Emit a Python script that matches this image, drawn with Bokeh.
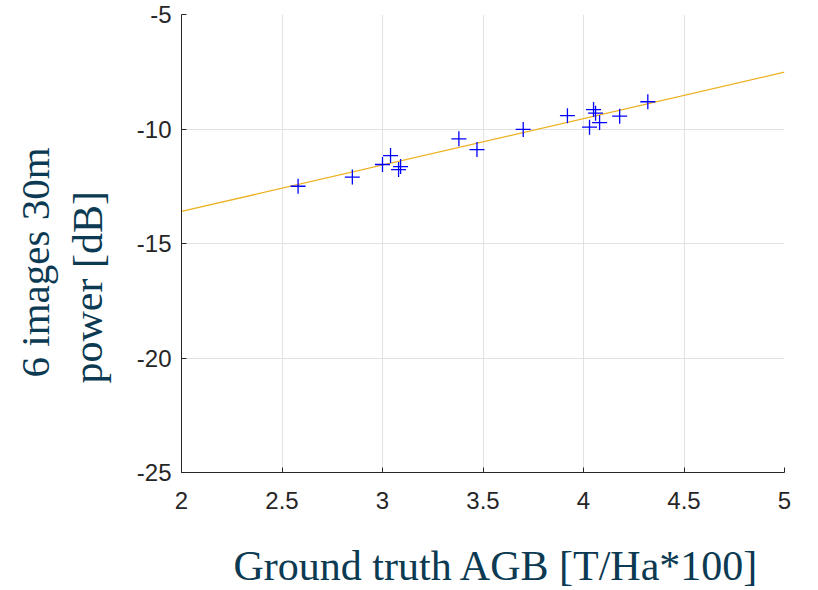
from bokeh.plotting import figure
from bokeh.models import Range1d, FixedTicker, Title
from bokeh.embed import file_html
from bokeh.resources import INLINE

# ---- data ----
agb = [2.58, 2.85, 3.00, 3.04, 3.08, 3.09, 3.38, 3.47, 3.70,
       3.92, 4.03, 4.05, 4.06, 4.08, 4.18, 4.32]
power_db = [-12.50, -12.10, -11.55, -11.16, -11.77, -11.64, -10.43, -10.90, -10.02,
            -9.42, -9.92, -9.15, -9.31, -9.72, -9.44, -8.81]
fit_x = [2.0, 5.0]
fit_y = [-13.60, -7.52]
x_ticks = [2, 2.5, 3, 3.5, 4, 4.5, 5]
x_tick_labels = ["2", "2.5", "3", "3.5", "4", "4.5", "5"]
y_ticks = [-25, -20, -15, -10, -5]
y_tick_labels = ["-25", "-20", "-15", "-10", "-5"]
x_label = "Ground truth AGB [T/Ha*100]"
y_label_1 = "6 images 30m"
y_label_2 = "power [dB]"

label_color = "#0b3a52"
axis_color = "#262626"

p = figure(width=818, height=590, output_backend="svg", toolbar_location=None,
           x_range=Range1d(2, 5), y_range=Range1d(-25, -5),
           min_border_left=181, min_border_right=34, min_border_top=14,
           min_border_bottom=118)
p.outline_line_color = None
p.background_fill_color = "white"
p.border_fill_color = "white"

for ax, ticks, labels in ((p.xaxis[0], x_ticks, x_tick_labels),
                          (p.yaxis[0], y_ticks, y_tick_labels)):
    ax.ticker = FixedTicker(ticks=ticks)
    ax.major_label_overrides = {t: l for t, l in zip(ticks, labels)}
    ax.minor_tick_line_color = None
    ax.major_tick_in = 5
    ax.major_tick_out = 0
    ax.axis_line_color = axis_color
    ax.major_tick_line_color = axis_color
    ax.major_label_text_color = axis_color
    ax.major_label_text_font = "Liberation Sans"
    ax.major_label_text_font_size = "24px"

p.xaxis.major_label_standoff = 19
p.yaxis.major_label_standoff = 10
# blank spacer label to push the x title down
p.xaxis.axis_label = " "
p.xaxis.axis_label_text_font_size = "1px"
p.xaxis.axis_label_standoff = 27

p.xgrid.ticker = FixedTicker(ticks=x_ticks)
p.ygrid.ticker = FixedTicker(ticks=y_ticks)
p.grid.grid_line_color = "#e2e2e2"
p.grid.grid_line_width = 1

p.line(fit_x, fit_y, line_color="#edb120", line_width=1.3)
p.scatter(agb, power_db, marker="cross", size=15, line_color="#0000ff", line_width=1.3)

def make_title(text, offset, standoff, size, valign="bottom", lh=1.0):
    return Title(text=text, align="left", offset=offset, standoff=standoff,
                 vertical_align=valign, text_line_height=lh,
                 text_font="Liberation Serif", text_font_size=size,
                 text_font_style="normal", text_color=label_color)

p.add_layout(make_title(x_label, 52, 0, "42px", "top", 0.85), "below")
p.add_layout(make_title(y_label_2, 89, 46, "42px"), "left")
p.add_layout(make_title(y_label_1, 95, -36, "41px"), "left")

open("out.html", "w").write(file_html(p, INLINE))
